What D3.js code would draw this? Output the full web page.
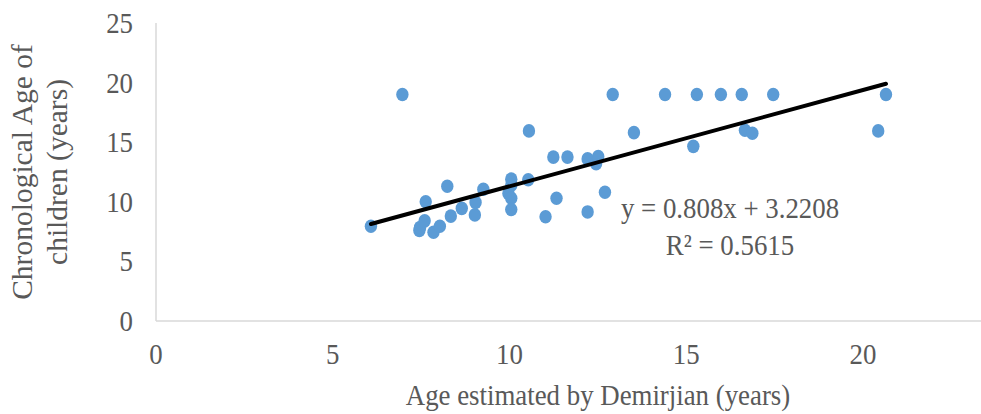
<!DOCTYPE html>
<html>
<head>
<meta charset="utf-8">
<script src="https://cdn.jsdelivr.net/npm/d3@7"></script>
<style>
  html, body { margin: 0; padding: 0; background: #fff; }
  svg { display: block; }
  text { font-family: "Liberation Serif", "Times New Roman", serif; fill: #595959; }
</style>
</head>
<body>
<svg id="chart" width="981" height="414"></svg>
<script>
// Data
const ageDemirjian = [6.08, 6.97, 7.45, 7.47, 7.6, 7.63, 7.85, 8.03, 8.24, 8.34, 8.65, 9.02, 9.04, 9.26,
  10.05, 10.05, 9.97, 10.05, 10.05, 10.53, 10.55, 11.02, 11.24, 11.33, 11.64, 12.21, 12.21, 12.45,
  12.51, 12.7, 12.92, 13.52, 14.4, 15.2, 15.3, 15.98, 16.57, 16.66, 16.87, 17.46, 20.43, 20.65];
const chronoAge = [7.95, 19.0, 7.6, 7.85, 8.4, 10.0, 7.45, 7.95, 11.3, 8.8, 9.45, 8.9, 9.95, 11.05,
  11.9, 11.4, 10.7, 10.3, 9.35, 11.85, 15.95, 8.75, 13.75, 10.3, 13.75, 13.6, 9.15, 13.2,
  13.8, 10.8, 19.0, 15.8, 19.0, 14.65, 19.0, 19.0, 19.0, 16.0, 15.75, 19.0, 15.95, 19.0];
const xTicks = [0, 5, 10, 15, 20];
const yTicks = [0, 5, 10, 15, 20, 25];
const slope = 0.808, intercept = 3.2208;
const eqLabel = "y = 0.808x + 3.2208";
const r2Label = "R² = 0.5615";
const xTitle = "Age estimated by Demirjian (years)";
const yTitleLines = ["Chronological Age of", "children (years)"];

const svg = d3.select("#chart");
const x = d3.scaleLinear().domain([0, 25]).range([156, 156 + 25 * 35.35]);
const y = d3.scaleLinear().domain([0, 25]).range([321, 23]);
const SX = 0.91; // horizontal condensation seen in the reference text
const FS = 29.5;

// axes lines
svg.append("line").attr("x1", x(0)).attr("x2", 981).attr("y1", y(0)).attr("y2", y(0))
  .attr("stroke", "#d9d9d9").attr("stroke-width", 1.5);
svg.append("line").attr("x1", x(0)).attr("x2", x(0)).attr("y1", y(0)).attr("y2", y(25))
  .attr("stroke", "#d9d9d9").attr("stroke-width", 1.5);

function hText(txt, px, py, anchor) {
  return svg.append("text")
    .attr("transform", `translate(${px},${py}) scale(${SX},1)`)
    .attr("text-anchor", anchor)
    .style("font-size", FS + "px")
    .text(txt);
}

// tick labels
xTicks.forEach(t => hText(String(t), x(t), 364, "middle"));
yTicks.forEach(t => hText(String(t), 133, y(t) + 10, "end"));

// axis titles
hText(xTitle, 598, 405, "middle");
const yt = svg.append("text")
  .attr("transform", "translate(32,172) rotate(-90)")
  .attr("text-anchor", "middle")
  .style("font-size", FS + "px");
yt.append("tspan").attr("x", 0).attr("y", 0).text(yTitleLines[0]);
yt.append("tspan").attr("x", 0).attr("y", 35).text(yTitleLines[1]);

// points
const pts = ageDemirjian.map((v, i) => [v, chronoAge[i]]);
svg.append("g").selectAll("ellipse").data(pts).join("ellipse")
  .attr("cx", d => x(d[0])).attr("cy", d => y(d[1]))
  .attr("rx", 6.2).attr("ry", 6.8)
  .attr("fill", "#5B9BD5");

// trendline
const xmin = d3.min(ageDemirjian), xmax = d3.max(ageDemirjian);
svg.append("line")
  .attr("x1", x(xmin)).attr("y1", y(slope * xmin + intercept))
  .attr("x2", x(xmax)).attr("y2", y(slope * xmax + intercept))
  .attr("stroke", "#000").attr("stroke-width", 4).attr("stroke-linecap", "round");

// equation labels
hText(eqLabel, 730, 218, "middle");
hText(r2Label, 730, 255, "middle");
</script>
</body>
</html>
